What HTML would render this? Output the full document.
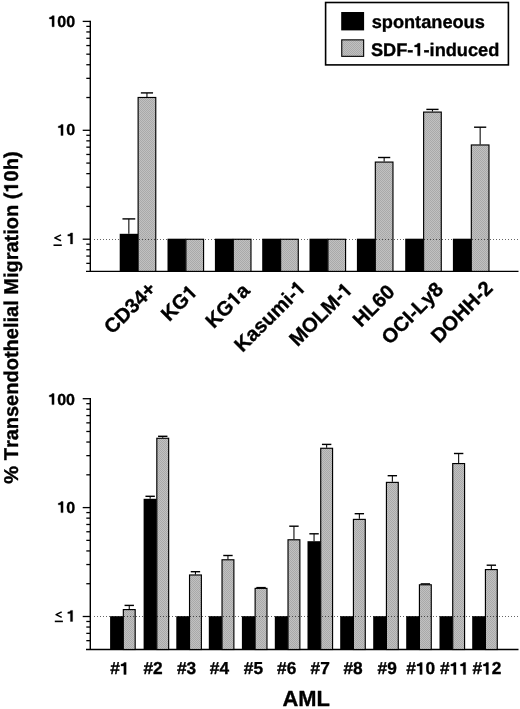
<!DOCTYPE html>
<html><head><meta charset="utf-8"><style>
html,body{margin:0;padding:0;background:#fff;}
body{width:520px;height:709px;overflow:hidden;}
svg{display:block;will-change:transform;}
path{fill:#000;stroke:#000;stroke-width:0.35;stroke-linejoin:round;vector-effect:non-scaling-stroke;}
text{font-family:"Liberation Sans",sans-serif;font-weight:bold;font-kerning:none;text-rendering:geometricPrecision;fill:#000;stroke:#000;stroke-width:0.35;stroke-linejoin:round;}
.h{fill:none;stroke:none;}
.ax{stroke:#000;stroke-width:1.4;}
.tk{stroke:#000;stroke-width:1.3;}
.dot{stroke:#000;stroke-opacity:0.6;stroke-width:1;stroke-dasharray:1 2;}
.gb{fill:url(#chk);stroke:#000;stroke-width:1.15;}
.es{stroke:#000;stroke-width:1.05;}
.ec{stroke:#000;stroke-width:1.4;}
.lt{fill:none;stroke:#000;stroke-width:1.5;stroke-linejoin:round;}
.ul{stroke:#000;stroke-width:1.6;}
</style></head><body>
<svg width="520" height="709" viewBox="0 0 520 709">
<defs><pattern id="chk" width="2" height="2" patternUnits="userSpaceOnUse"><rect width="2" height="2" fill="#c1c1c1"/><rect width="1" height="1" fill="#a9a9a9"/><rect x="1" y="1" width="1" height="1" fill="#a9a9a9"/></pattern></defs>
<line x1="90.3" y1="20.799999999999997" x2="90.3" y2="271.4" class="ax"/>
<line x1="86" y1="271.4" x2="518.5" y2="271.4" class="ax"/>
<line x1="82.7" y1="239.20" x2="90.3" y2="239.20" class="tk"/>
<line x1="86.3" y1="206.42" x2="90.3" y2="206.42" class="tk"/>
<line x1="86.3" y1="187.24" x2="90.3" y2="187.24" class="tk"/>
<line x1="86.3" y1="173.64" x2="90.3" y2="173.64" class="tk"/>
<line x1="86.3" y1="163.08" x2="90.3" y2="163.08" class="tk"/>
<line x1="86.3" y1="154.46" x2="90.3" y2="154.46" class="tk"/>
<line x1="86.3" y1="147.17" x2="90.3" y2="147.17" class="tk"/>
<line x1="86.3" y1="140.85" x2="90.3" y2="140.85" class="tk"/>
<line x1="86.3" y1="135.28" x2="90.3" y2="135.28" class="tk"/>
<line x1="82.7" y1="130.30" x2="90.3" y2="130.30" class="tk"/>
<line x1="86.3" y1="97.52" x2="90.3" y2="97.52" class="tk"/>
<line x1="86.3" y1="78.34" x2="90.3" y2="78.34" class="tk"/>
<line x1="86.3" y1="64.74" x2="90.3" y2="64.74" class="tk"/>
<line x1="86.3" y1="54.18" x2="90.3" y2="54.18" class="tk"/>
<line x1="86.3" y1="45.56" x2="90.3" y2="45.56" class="tk"/>
<line x1="86.3" y1="38.27" x2="90.3" y2="38.27" class="tk"/>
<line x1="86.3" y1="31.95" x2="90.3" y2="31.95" class="tk"/>
<line x1="86.3" y1="26.38" x2="90.3" y2="26.38" class="tk"/>
<line x1="82.7" y1="21.40" x2="90.3" y2="21.40" class="tk"/>
<line x1="86.3" y1="263.36" x2="90.3" y2="263.36" class="tk"/>
<line x1="86.3" y1="256.07" x2="90.3" y2="256.07" class="tk"/>
<line x1="86.3" y1="249.75" x2="90.3" y2="249.75" class="tk"/>
<line x1="86.3" y1="244.18" x2="90.3" y2="244.18" class="tk"/>
<line x1="90.3" y1="398.09999999999997" x2="90.3" y2="649.5" class="ax"/>
<line x1="86" y1="649.5" x2="518.5" y2="649.5" class="ax"/>
<line x1="82.7" y1="616.50" x2="90.3" y2="616.50" class="tk"/>
<line x1="86.3" y1="583.72" x2="90.3" y2="583.72" class="tk"/>
<line x1="86.3" y1="564.54" x2="90.3" y2="564.54" class="tk"/>
<line x1="86.3" y1="550.94" x2="90.3" y2="550.94" class="tk"/>
<line x1="86.3" y1="540.38" x2="90.3" y2="540.38" class="tk"/>
<line x1="86.3" y1="531.76" x2="90.3" y2="531.76" class="tk"/>
<line x1="86.3" y1="524.47" x2="90.3" y2="524.47" class="tk"/>
<line x1="86.3" y1="518.15" x2="90.3" y2="518.15" class="tk"/>
<line x1="86.3" y1="512.58" x2="90.3" y2="512.58" class="tk"/>
<line x1="82.7" y1="507.60" x2="90.3" y2="507.60" class="tk"/>
<line x1="86.3" y1="474.82" x2="90.3" y2="474.82" class="tk"/>
<line x1="86.3" y1="455.64" x2="90.3" y2="455.64" class="tk"/>
<line x1="86.3" y1="442.04" x2="90.3" y2="442.04" class="tk"/>
<line x1="86.3" y1="431.48" x2="90.3" y2="431.48" class="tk"/>
<line x1="86.3" y1="422.86" x2="90.3" y2="422.86" class="tk"/>
<line x1="86.3" y1="415.57" x2="90.3" y2="415.57" class="tk"/>
<line x1="86.3" y1="409.25" x2="90.3" y2="409.25" class="tk"/>
<line x1="86.3" y1="403.68" x2="90.3" y2="403.68" class="tk"/>
<line x1="82.7" y1="398.70" x2="90.3" y2="398.70" class="tk"/>
<line x1="86.3" y1="640.66" x2="90.3" y2="640.66" class="tk"/>
<line x1="86.3" y1="633.37" x2="90.3" y2="633.37" class="tk"/>
<line x1="86.3" y1="627.05" x2="90.3" y2="627.05" class="tk"/>
<line x1="86.3" y1="621.48" x2="90.3" y2="621.48" class="tk"/>
<g transform="translate(48.361 26.708)"><text font-size="16"><tspan class="h">1</tspan>00</text><path transform="matrix(0.007812 0 0 -0.007812 0.000 0)" d="M470 0V1000H130V1190Q420 1195 500 1409H745V0Z"/></g>
<g transform="translate(57.259 135.458)"><text font-size="16"><tspan class="h">1</tspan>0</text><path transform="matrix(0.007812 0 0 -0.007812 0.000 0)" d="M470 0V1000H130V1190Q420 1195 500 1409H745V0Z"/></g>
<g transform="translate(53.553 243.904)"><text font-size="16"><tspan class="h">&#8804;</tspan> <tspan class="h">1</tspan></text><path transform="matrix(0.007812 0 0 -0.007812 13.227 0)" d="M470 0V1000H130V1190Q420 1195 500 1409H745V0Z"/></g>
<g transform="translate(48.261 404.608)"><text font-size="16"><tspan class="h">1</tspan>00</text><path transform="matrix(0.007812 0 0 -0.007812 0.000 0)" d="M470 0V1000H130V1190Q420 1195 500 1409H745V0Z"/></g>
<g transform="translate(57.259 512.608)"><text font-size="16"><tspan class="h">1</tspan>0</text><path transform="matrix(0.007812 0 0 -0.007812 0.000 0)" d="M470 0V1000H130V1190Q420 1195 500 1409H745V0Z"/></g>
<g transform="translate(53.553 621.404)"><text font-size="16"><tspan class="h">&#8804;</tspan> <tspan class="h">1</tspan></text><path transform="matrix(0.007812 0 0 -0.007812 13.227 0)" d="M470 0V1000H130V1190Q420 1195 500 1409H745V0Z"/></g>
<polyline points="61,234.9 54.8,237.85 61,240.8" class="lt"/>
<line x1="53.5" y1="245.2" x2="61.8" y2="245.2" class="ul"/>
<polyline points="61.7,611.9 56.1,614.65 61.7,617.4" class="lt"/>
<line x1="54.8" y1="621.4" x2="62.9" y2="621.4" class="ul"/>
<line x1="128.85" y1="233.80" x2="128.85" y2="218.90" class="es"/>
<line x1="122.45" y1="218.90" x2="135.25" y2="218.90" class="ec"/>
<line x1="146.95" y1="96.90" x2="146.95" y2="92.90" class="es"/>
<line x1="140.85" y1="92.90" x2="153.05" y2="92.90" class="ec"/>
<rect x="119.70" y="233.80" width="18.30" height="37.60" fill="#000"/>
<rect x="138.12" y="97.48" width="17.65" height="173.92" class="gb"/>
<rect x="167.50" y="238.70" width="18.30" height="32.70" fill="#000"/>
<rect x="185.92" y="239.27" width="17.65" height="32.12" class="gb"/>
<rect x="214.90" y="238.70" width="18.30" height="32.70" fill="#000"/>
<rect x="233.32" y="239.27" width="17.65" height="32.12" class="gb"/>
<rect x="262.20" y="238.70" width="18.30" height="32.70" fill="#000"/>
<rect x="280.62" y="239.27" width="17.65" height="32.12" class="gb"/>
<rect x="309.50" y="238.70" width="18.30" height="32.70" fill="#000"/>
<rect x="327.93" y="239.27" width="17.65" height="32.12" class="gb"/>
<line x1="384.15" y1="161.50" x2="384.15" y2="157.50" class="es"/>
<line x1="378.05" y1="157.50" x2="390.25" y2="157.50" class="ec"/>
<rect x="356.90" y="238.70" width="18.30" height="32.70" fill="#000"/>
<rect x="375.32" y="162.07" width="17.65" height="109.32" class="gb"/>
<line x1="432.45" y1="111.50" x2="432.45" y2="109.40" class="es"/>
<line x1="426.35" y1="109.40" x2="438.55" y2="109.40" class="ec"/>
<rect x="405.20" y="238.70" width="18.30" height="32.70" fill="#000"/>
<rect x="423.62" y="112.08" width="17.65" height="159.32" class="gb"/>
<line x1="480.15" y1="144.40" x2="480.15" y2="127.20" class="es"/>
<line x1="474.05" y1="127.20" x2="486.25" y2="127.20" class="ec"/>
<rect x="452.90" y="238.70" width="18.30" height="32.70" fill="#000"/>
<rect x="471.32" y="144.97" width="17.65" height="126.42" class="gb"/>
<line x1="129.25" y1="609.00" x2="129.25" y2="605.40" class="es"/>
<line x1="124.55" y1="605.40" x2="133.95" y2="605.40" class="ec"/>
<rect x="110.10" y="616.20" width="13.10" height="33.30" fill="#000"/>
<rect x="123.33" y="609.58" width="11.85" height="39.92" class="gb"/>
<line x1="150.15" y1="498.80" x2="150.15" y2="496.30" class="es"/>
<line x1="145.45" y1="496.30" x2="154.85" y2="496.30" class="ec"/>
<line x1="162.75" y1="437.70" x2="162.75" y2="436.30" class="es"/>
<line x1="158.05" y1="436.30" x2="167.45" y2="436.30" class="ec"/>
<rect x="143.60" y="498.80" width="13.10" height="150.70" fill="#000"/>
<rect x="156.82" y="438.27" width="11.85" height="211.23" class="gb"/>
<line x1="195.45" y1="574.40" x2="195.45" y2="571.70" class="es"/>
<line x1="190.75" y1="571.70" x2="200.15" y2="571.70" class="ec"/>
<rect x="176.30" y="616.20" width="13.10" height="33.30" fill="#000"/>
<rect x="189.53" y="574.98" width="11.85" height="74.53" class="gb"/>
<line x1="227.95" y1="559.20" x2="227.95" y2="555.50" class="es"/>
<line x1="223.25" y1="555.50" x2="232.65" y2="555.50" class="ec"/>
<rect x="208.80" y="616.20" width="13.10" height="33.30" fill="#000"/>
<rect x="222.03" y="559.78" width="11.85" height="89.72" class="gb"/>
<line x1="261.05" y1="587.80" x2="261.05" y2="587.60" class="es"/>
<line x1="256.35" y1="587.60" x2="265.75" y2="587.60" class="ec"/>
<rect x="241.90" y="616.20" width="13.10" height="33.30" fill="#000"/>
<rect x="255.12" y="588.38" width="11.85" height="61.13" class="gb"/>
<line x1="293.95" y1="539.20" x2="293.95" y2="526.20" class="es"/>
<line x1="289.25" y1="526.20" x2="298.65" y2="526.20" class="ec"/>
<rect x="274.80" y="616.20" width="13.10" height="33.30" fill="#000"/>
<rect x="288.02" y="539.78" width="11.85" height="109.72" class="gb"/>
<line x1="314.05" y1="541.20" x2="314.05" y2="533.80" class="es"/>
<line x1="309.35" y1="533.80" x2="318.75" y2="533.80" class="ec"/>
<line x1="326.65" y1="447.70" x2="326.65" y2="444.40" class="es"/>
<line x1="321.95" y1="444.40" x2="331.35" y2="444.40" class="ec"/>
<rect x="307.50" y="541.20" width="13.10" height="108.30" fill="#000"/>
<rect x="320.72" y="448.27" width="11.85" height="201.23" class="gb"/>
<line x1="359.35" y1="518.80" x2="359.35" y2="513.70" class="es"/>
<line x1="354.65" y1="513.70" x2="364.05" y2="513.70" class="ec"/>
<rect x="340.20" y="616.20" width="13.10" height="33.30" fill="#000"/>
<rect x="353.42" y="519.38" width="11.85" height="130.13" class="gb"/>
<line x1="392.35" y1="481.80" x2="392.35" y2="475.70" class="es"/>
<line x1="387.65" y1="475.70" x2="397.05" y2="475.70" class="ec"/>
<rect x="373.20" y="616.20" width="13.10" height="33.30" fill="#000"/>
<rect x="386.42" y="482.38" width="11.85" height="167.12" class="gb"/>
<line x1="425.35" y1="584.20" x2="425.35" y2="583.90" class="es"/>
<line x1="420.65" y1="583.90" x2="430.05" y2="583.90" class="ec"/>
<rect x="406.20" y="616.20" width="13.10" height="33.30" fill="#000"/>
<rect x="419.42" y="584.78" width="11.85" height="64.72" class="gb"/>
<line x1="458.65" y1="463.00" x2="458.65" y2="453.50" class="es"/>
<line x1="453.95" y1="453.50" x2="463.35" y2="453.50" class="ec"/>
<rect x="439.50" y="616.20" width="13.10" height="33.30" fill="#000"/>
<rect x="452.72" y="463.57" width="11.85" height="185.93" class="gb"/>
<line x1="491.35" y1="569.00" x2="491.35" y2="565.20" class="es"/>
<line x1="486.65" y1="565.20" x2="496.05" y2="565.20" class="ec"/>
<rect x="472.20" y="616.20" width="13.10" height="33.30" fill="#000"/>
<rect x="485.42" y="569.58" width="11.85" height="79.92" class="gb"/>
<line x1="94" y1="239.5" x2="520" y2="239.5" class="dot"/>
<line x1="94" y1="616.5" x2="520" y2="616.5" class="dot"/>
<g transform="translate(112.345 335.017) rotate(-45)"><text font-size="20.2">CD34+</text></g>
<g transform="translate(169.225 322.352) rotate(-45)"><text font-size="20.2">KG<tspan class="h">1</tspan></text><path transform="matrix(0.009863 0 0 -0.009863 30.300 0)" d="M470 0V1000H130V1190Q420 1195 500 1409H745V0Z"/></g>
<g transform="translate(213.633 329.158) rotate(-45)"><text font-size="20.2">KG<tspan class="h">1</tspan>a</text><path transform="matrix(0.009863 0 0 -0.009863 30.300 0)" d="M470 0V1000H130V1190Q420 1195 500 1409H745V0Z"/></g>
<g transform="translate(242.561 353.116) rotate(-45)"><text font-size="20.2">Kasumi-<tspan class="h">1</tspan></text><path transform="matrix(0.009863 0 0 -0.009863 79.695 0)" d="M470 0V1000H130V1190Q420 1195 500 1409H745V0Z"/></g>
<g transform="translate(297.444 347.183) rotate(-45)"><text font-size="20.2">MOLM-<tspan class="h">1</tspan></text><path transform="matrix(0.009863 0 0 -0.009863 68.431 0)" d="M470 0V1000H130V1190Q420 1195 500 1409H745V0Z"/></g>
<g transform="translate(360.921 327.996) rotate(-45)"><text font-size="20.2">HL60</text></g>
<g transform="translate(389.675 345.382) rotate(-45)"><text font-size="20.2">OCI-Ly8</text></g>
<g transform="translate(439.244 343.997) rotate(-45)"><text font-size="20.2">DOHH-2</text></g>
<g transform="translate(110.245 674.400)"><text font-size="17.3">#<tspan class="h">1</tspan></text><path transform="matrix(0.008447 0 0 -0.008447 9.621 0)" d="M470 0V1000H130V1190Q420 1195 500 1409H745V0Z"/></g>
<g transform="translate(143.477 674.400)"><text font-size="17.3">#2</text></g>
<g transform="translate(176.993 674.400)"><text font-size="17.3">#3</text></g>
<g transform="translate(209.827 674.400)"><text font-size="17.3">#4</text></g>
<g transform="translate(243.871 674.400)"><text font-size="17.3">#5</text></g>
<g transform="translate(277.043 674.400)"><text font-size="17.3">#6</text></g>
<g transform="translate(310.611 674.400)"><text font-size="17.3">#7</text></g>
<g transform="translate(343.497 674.400)"><text font-size="17.3">#8</text></g>
<g transform="translate(377.552 674.400)"><text font-size="17.3">#9</text></g>
<g transform="translate(406.275 674.400)"><text font-size="17.3">#<tspan class="h">1</tspan>0</text><path transform="matrix(0.008447 0 0 -0.008447 9.621 0)" d="M470 0V1000H130V1190Q420 1195 500 1409H745V0Z"/></g>
<g transform="translate(440.084 674.400)"><text font-size="17.3">#<tspan class="h">1</tspan><tspan class="h">1</tspan></text><path transform="matrix(0.008447 0 0 -0.008447 9.621 0)" d="M470 0V1000H130V1190Q420 1195 500 1409H745V0Z"/><path transform="matrix(0.008447 0 0 -0.008447 19.243 0)" d="M470 0V1000H130V1190Q420 1195 500 1409H745V0Z"/></g>
<g transform="translate(472.516 674.400)"><text font-size="17.3">#<tspan class="h">1</tspan>2</text><path transform="matrix(0.008447 0 0 -0.008447 9.621 0)" d="M470 0V1000H130V1190Q420 1195 500 1409H745V0Z"/></g>
<g transform="translate(282.546 706.200)"><text font-size="21.9">AML</text></g>
<g transform="translate(18.000 483.679) rotate(-90)"><text font-size="20.0">% Transendothelial Migration (<tspan class="h">1</tspan>0h)</text><path transform="matrix(0.009766 0 0 -0.009766 291.133 0)" d="M470 0V1000H130V1190Q420 1195 500 1409H745V0Z"/></g>
<rect x="325.6" y="2.5" width="182.8" height="62.4" fill="none" stroke="#000" stroke-width="1.6"/>
<rect x="341.2" y="12" width="22.9" height="18.4" fill="#000"/>
<rect x="341.75" y="39.85" width="21.9" height="16.5" class="gb" style="stroke-width:1.1"/>
<g transform="translate(371.660 28.100)"><text font-size="18.2">spontaneous</text></g>
<g transform="translate(370.976 55.800)"><text font-size="18.2">SDF-<tspan class="h">1</tspan>-induced</text><path transform="matrix(0.008887 0 0 -0.008887 42.461 0)" d="M470 0V1000H130V1190Q420 1195 500 1409H745V0Z"/></g>
</svg>
</body></html>
